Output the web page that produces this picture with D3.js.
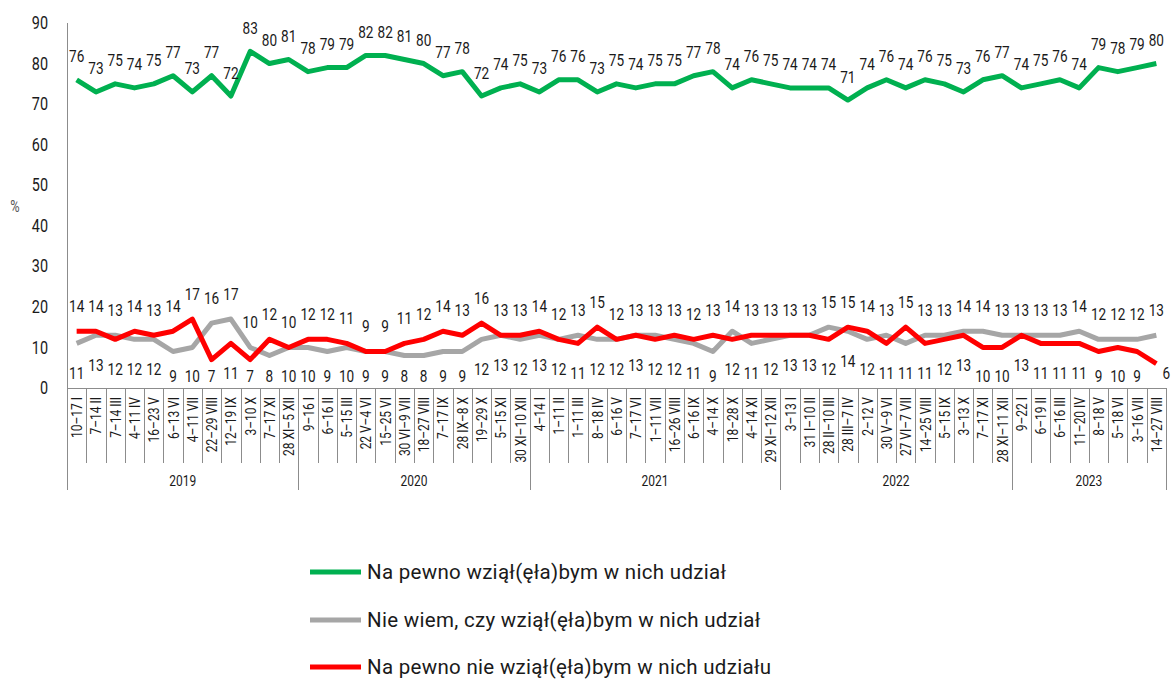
<!DOCTYPE html>
<html>
<head>
<meta charset="utf-8">
<script src="https://cdn.jsdelivr.net/npm/d3@7"></script>
<style>
  body { margin: 0; background: #fff; }
  svg { display: block; font-family: Roboto, "Liberation Sans", sans-serif; }
</style>
</head>
<body>
<div id="chart"></div>
<script>
const years = ["2019", "2020", "2021", "2022", "2023"];
const yearCounts = [12, 12, 13, 12, 8];
const categories = [
    "10–17 I", "7–14 II", "7–14 III", "4–11 IV", "16–23 V", "6–13 VI", "4–11 VII", "22–29 VIII", "12–19 IX", "3–10 X", "7–17 XI", "28 XI–5 XII",
    "9–16 I", "6–16 II", "5–15 III", "22 V–4 VI", "15–25 VI", "30 VI–9 VII", "18–27 VIII", "7–17 IX", "28 IX–8 X", "19–29 X", "5–15 XI", "30 XI–10 XII",
    "4–14 I", "1–11 II", "1–11 III", "8–18 IV", "6–16 V", "7–17 VI", "1–11 VII", "16–26 VIII", "6–16 IX", "4–14 X", "18–28 X", "4–14 XI", "29 XI–12 XII",
    "3–13 I", "31 I–10 II", "28 II–10 III", "28 III–7 IV", "2–12 V", "30 V–9 VI", "27 VI–7 VII", "14–25 VIII", "5–15 IX", "3–13 X", "7–17 XI", "28 XI–11 XII",
    "9–22 I", "6–19 II", "6–16 III", "11–20 IV", "8–18 V", "5–18 VI", "3–16 VII", "14–27 VIII"
];
const yes = [
    76, 73, 75, 74, 75, 77, 73, 77, 72, 83, 80, 81,
    78, 79, 79, 82, 82, 81, 80, 77, 78, 72, 74, 75,
    73, 76, 76, 73, 75, 74, 75, 75, 77, 78, 74, 76, 75,
    74, 74, 74, 71, 74, 76, 74, 76, 75, 73, 76, 77,
    74, 75, 76, 74, 79, 78, 79, 80
];
const dontKnow = [
    11, 13, 13, 12, 12, 9, 10, 16, 17, 10, 8, 10,
    10, 9, 10, 9, 9, 8, 8, 9, 9, 12, 13, 12,
    13, 12, 13, 12, 12, 13, 13, 12, 11, 9, 14, 11, 12,
    13, 13, 15, 14, 12, 13, 11, 13, 13, 14, 14, 13,
    13, 13, 13, 14, 12, 12, 12, 13
];
const no = [
    14, 14, 12, 14, 13, 14, 17, 7, 11, 7, 12, 10,
    12, 12, 11, 9, 9, 11, 12, 14, 13, 16, 13, 13,
    14, 12, 11, 15, 12, 13, 12, 13, 12, 13, 12, 13, 13,
    13, 13, 12, 15, 14, 11, 15, 11, 12, 13, 10, 10,
    13, 11, 11, 11, 9, 10, 9, 6
];
const yTicks = [0, 10, 20, 30, 40, 50, 60, 70, 80, 90];
const seriesNames = [
    "Na pewno wziął(ęła)bym w nich udział",
    "Nie wiem, czy wziął(ęła)bym w nich udział",
    "Na pewno nie wziął(ęła)bym w nich udziału"
];
const seriesColors = ["#00b050", "#a6a6a6", "#ff0000"];

const width = 1173, height = 679;
const plotLeft = 67, plotRight = 1166, plotTop = 23, plotBase = 388;
const narrow = 0.8;   // squeeze Roboto to look like the condensed face

const svg = d3.select("#chart").append("svg")
    .attr("width", width)
    .attr("height", height);

const x = d3.scaleBand()
    .domain(d3.range(categories.length))
    .range([plotLeft, plotRight]);
const cx = i => x(i) + x.bandwidth() / 2;

const y = d3.scaleLinear().domain([0, 90]).range([plotBase, plotTop]);

// condensed text helper
function label(g, px, py, txt, opts = {}) {
    g.append("text")
        .attr("transform", `translate(${px},${py}) ${opts.rotate ? "rotate(-90) " : ""}scale(${narrow},1)`)
        .attr("text-anchor", opts.anchor || "middle")
        .attr("dominant-baseline", "central")
        .attr("font-size", opts.size || 15)
        .attr("fill", opts.fill || "#1a1a1a")
        .text(txt);
}

// y axis labels
const axisG = svg.append("g");
yTicks.forEach(t => label(axisG, 48, y(t), t, { anchor: "end", size: 18 }));
label(axisG, 15, 207, "%", { size: 16, fill: "#595959" });

// category axis frame
const frame = svg.append("g").attr("stroke", "#8c8c8c").attr("stroke-width", 1);
frame.append("line").attr("x1", plotLeft + 0.5).attr("x2", plotLeft + 0.5).attr("y1", plotTop).attr("y2", 490);
frame.append("line").attr("x1", plotLeft).attr("x2", plotRight).attr("y1", plotBase + 0.5).attr("y2", plotBase + 0.5);

const boundaries = d3.cumsum(yearCounts);
d3.range(1, categories.length + 1).forEach(i => {
    const bx = Math.round(x(i - 1) + x.bandwidth()) + 0.5;
    const isYear = boundaries.includes(i);
    frame.append("line")
        .attr("x1", bx).attr("x2", bx)
        .attr("y1", plotBase).attr("y2", isYear ? 490 : 463);
});

const catG = svg.append("g");
categories.forEach((c, i) => label(catG, cx(i), 397, c, { rotate: true, anchor: "end", size: 15 }));

let start = 0;
years.forEach((yr, k) => {
    const end = start + yearCounts[k] - 1;
    const mid = (x(start) + x(end) + x.bandwidth()) / 2;
    label(catG, mid, 480, yr, { size: 15 });
    start = end + 1;
});

// lines
const line = d3.line().x((d, i) => cx(i)).y(d => y(d));
[[dontKnow, 1], [no, 2], [yes, 0]].forEach(([s, idx]) => {
    svg.append("path")
        .attr("d", line(s))
        .attr("fill", "none")
        .attr("stroke", seriesColors[idx])
        .attr("stroke-width", 5)
        .attr("stroke-linejoin", "round");
});

// data labels
const lblG = svg.append("g");
yes.forEach((v, i) => label(lblG, cx(i), y(v) - 23, v, { size: 17 }));

const last = categories.length - 1;
no.forEach((r, i) => {
    const g = dontKnow[i];
    const upper = Math.max(r, g);
    const lower = Math.min(r, g);
    label(lblG, cx(i), y(upper) - 25, upper, { size: 17 });
    if (i === last) {
        label(lblG, cx(i) + 10, y(lower) + 10, lower, { size: 17 });
    } else {
        label(lblG, cx(i), Math.min(y(lower) + 30, 376), lower, { size: 17 });
    }
});

// legend
const legend = svg.append("g");
const legendY = [572, 620, 667];
seriesNames.forEach((name, k) => {
    legend.append("line")
        .attr("x1", 310).attr("x2", 361)
        .attr("y1", legendY[k]).attr("y2", legendY[k])
        .attr("stroke", seriesColors[k])
        .attr("stroke-width", 5);
    legend.append("text")
        .attr("x", 367).attr("y", legendY[k])
        .attr("dominant-baseline", "central")
        .attr("font-size", 20.5)
        .attr("letter-spacing", 0.3)
        .attr("fill", "#1a1a1a")
        .text(name);
});
</script>
</body>
</html>
